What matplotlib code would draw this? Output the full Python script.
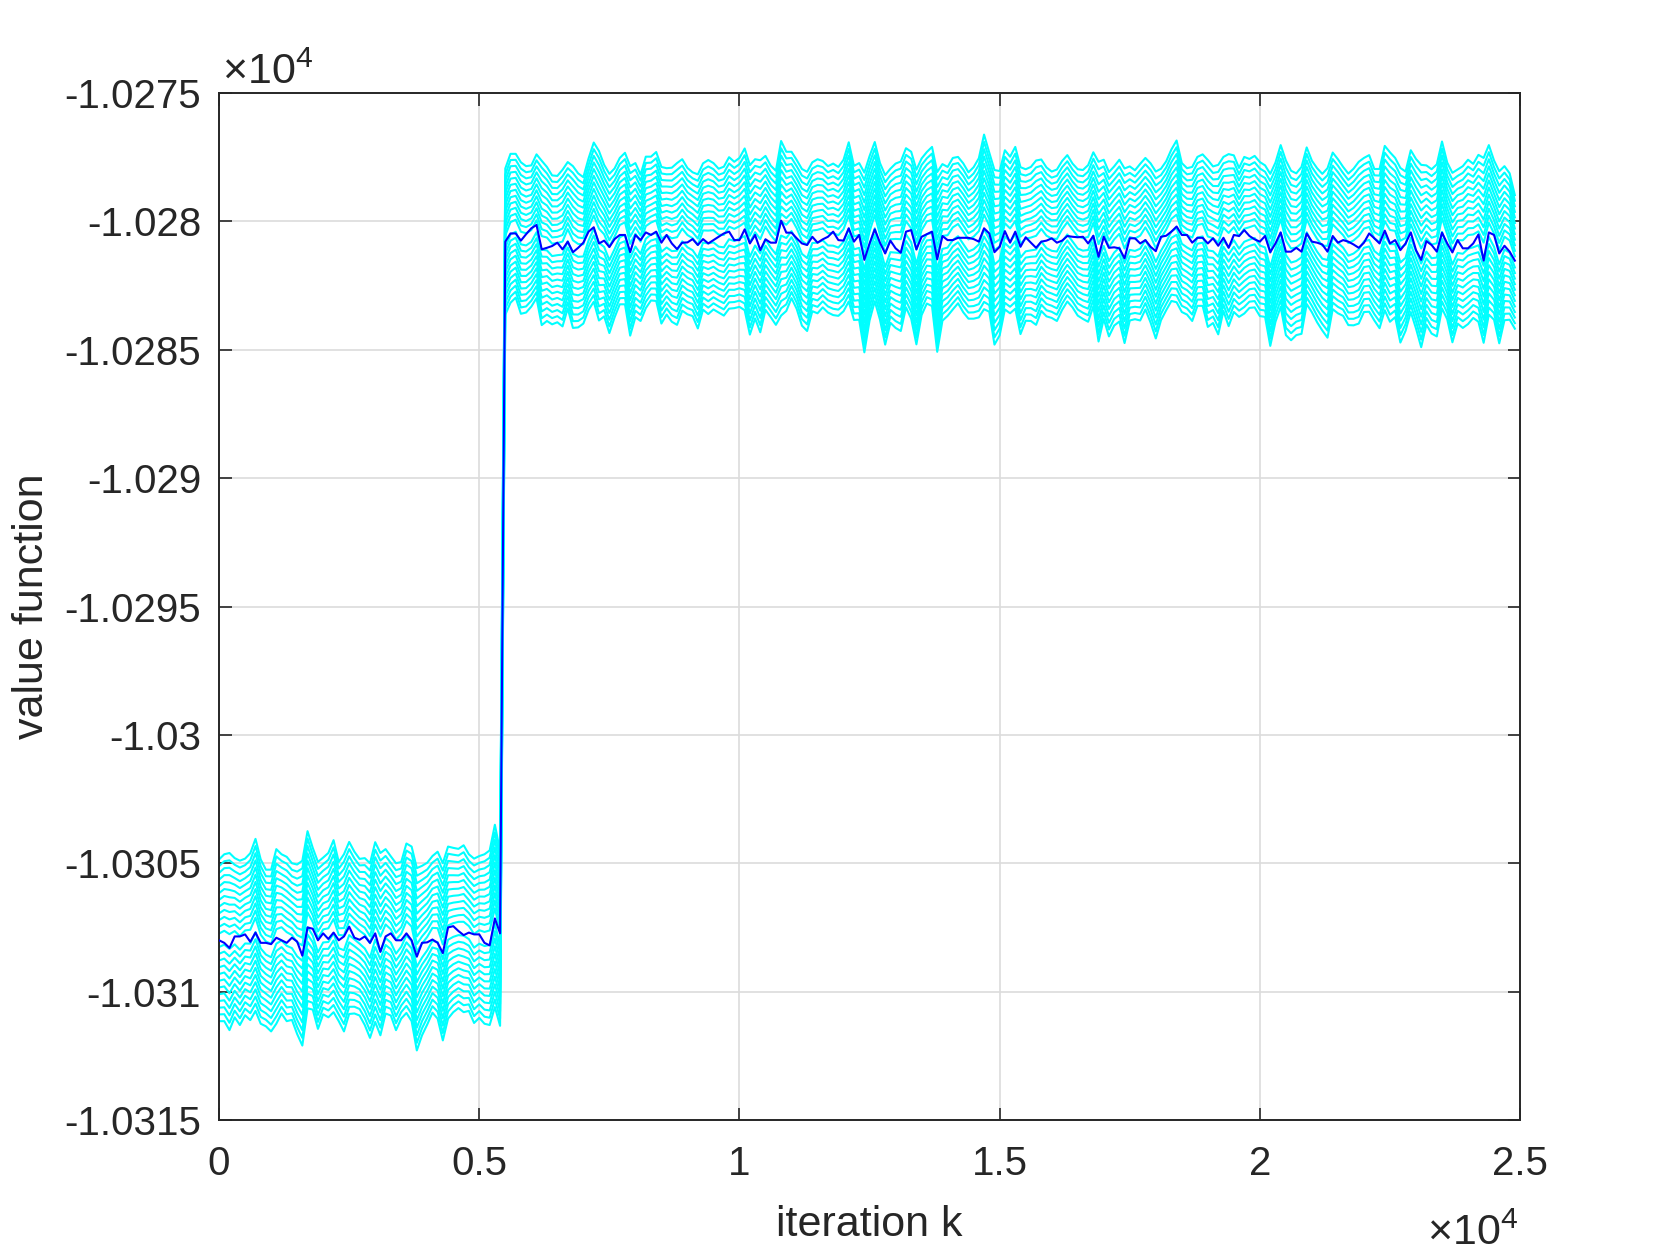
import numpy as np
import matplotlib
matplotlib.use("Agg")
import matplotlib.pyplot as plt
from matplotlib.ticker import FixedLocator, FixedFormatter

plt.rcParams['font.family'] = ['Liberation Sans', 'DejaVu Sans']
plt.rcParams['mathtext.fontset'] = 'custom'
plt.rcParams['mathtext.rm'] = 'Liberation Sans'
plt.rcParams['mathtext.it'] = 'Liberation Sans:italic'

# ---------------- data ----------------
iter_step = 100
iterations = np.arange(0, 25000, iter_step)          # 0 .. 24900

# mean value function (blue), before the jump (0 .. 5400)
blue_pre = [-10308.00, -10308.10, -10308.30, -10307.85, -10307.85, -10307.77, -10308.06, -10307.70,
            -10308.10, -10308.10, -10308.15, -10307.90, -10308.00, -10308.10, -10307.90, -10308.05,
            -10308.60, -10307.50, -10307.55, -10308.00, -10307.73, -10307.95, -10307.70, -10308.00,
            -10307.85, -10307.47, -10307.90, -10307.98, -10307.85, -10308.10, -10307.73, -10308.45,
            -10307.85, -10307.73, -10308.00, -10308.00, -10307.73, -10308.00, -10308.64, -10308.10,
            -10308.08, -10307.97, -10308.10, -10308.50, -10307.50, -10307.45, -10307.64, -10307.80,
            -10307.70, -10307.77, -10307.77, -10308.10, -10308.20, -10307.15, -10307.73]
# after the jump (5500 .. 24900)
blue_post = [-10280.79, -10280.47, -10280.47, -10280.75, -10280.50, -10280.27, -10280.14, -10281.09,
             -10281.03, -10280.96, -10280.83, -10281.09, -10280.79, -10281.20, -10281.03, -10280.83,
             -10280.40, -10280.23, -10280.86, -10280.75, -10281.00, -10280.69, -10280.53, -10280.53,
             -10281.20, -10280.53, -10280.73, -10280.43, -10280.53, -10280.40, -10280.83, -10280.53,
             -10280.86, -10281.08, -10280.83, -10280.82, -10280.69, -10280.92, -10280.69, -10280.86,
             -10280.73, -10280.60, -10280.47, -10280.40, -10280.73, -10280.73, -10280.31, -10280.86,
             -10280.53, -10281.12, -10280.70, -10280.83, -10280.83, -10279.97, -10280.44, -10280.44,
             -10280.66, -10280.86, -10280.92, -10280.60, -10280.83, -10280.70, -10280.60, -10280.40,
             -10280.73, -10280.75, -10280.27, -10280.79, -10280.53, -10281.50, -10280.86, -10280.31,
             -10280.83, -10281.25, -10280.75, -10281.05, -10281.22, -10280.40, -10280.34, -10281.09,
             -10280.60, -10280.50, -10280.40, -10281.48, -10280.57, -10280.73, -10280.73, -10280.64,
             -10280.64, -10280.64, -10280.69, -10280.79, -10280.27, -10280.47, -10281.20, -10280.99,
             -10280.38, -10280.83, -10280.40, -10280.99, -10280.62, -10280.83, -10281.03, -10280.79,
             -10280.75, -10280.66, -10280.83, -10280.75, -10280.57, -10280.60, -10280.62, -10280.60,
             -10280.86, -10280.56, -10281.38, -10280.60, -10281.03, -10281.01, -10281.05, -10281.44,
             -10280.66, -10280.66, -10280.86, -10280.73, -10280.99, -10281.16, -10280.60, -10280.56,
             -10280.40, -10280.20, -10280.53, -10280.53, -10280.83, -10280.64, -10280.64, -10280.86,
             -10280.66, -10280.95, -10280.64, -10281.03, -10280.53, -10280.57, -10280.34, -10280.57,
             -10280.70, -10280.79, -10280.57, -10281.20, -10280.86, -10280.43, -10281.18, -10281.18,
             -10281.03, -10281.18, -10280.47, -10280.79, -10280.83, -10280.90, -10281.18, -10280.57,
             -10280.83, -10280.73, -10280.79, -10280.90, -10281.03, -10280.83, -10280.47, -10280.66,
             -10280.86, -10280.36, -10280.86, -10280.73, -10281.12, -10280.86, -10280.43, -10281.12,
             -10281.50, -10280.77, -10280.92, -10281.18, -10280.44, -10280.86, -10281.21, -10280.73,
             -10281.05, -10281.05, -10280.86, -10280.51, -10281.53, -10280.43, -10280.53, -10281.25,
             -10280.95, -10281.18, -10281.53]

# half-width of the cyan band (outermost cyan line distance from blue)
half_width_pre = [3.15, 3.25, 3.45, 3.10, 3.20, 3.05, 3.25, 3.35, 3.20, 3.05, 3.15, 3.40, 3.10, 3.20,
                  3.05, 3.30, 3.60, 3.45, 3.15, 3.25, 3.05, 3.20, 3.35, 3.10, 3.45, 3.35, 3.15, 3.05,
                  3.25, 3.40, 3.50, 3.55, 3.20, 3.10, 3.25, 3.05, 3.30, 3.40, 3.55, 3.30, 3.15, 3.05,
                  3.25, 3.45, 3.35, 3.20, 3.10, 3.25, 3.05, 3.20, 3.15, 3.30, 3.40, 3.55, 3.40]
half_width_post = [2.85, 2.90, 2.80, 2.95, 2.85, 2.75, 2.80, 3.20, 3.00, 2.90, 2.85, 3.05, 2.85, 3.15,
                   3.00, 2.85, 2.95, 3.10, 3.30, 2.95, 3.10, 2.90, 2.85, 2.95, 3.30, 3.00, 2.85, 2.95,
                   2.80, 2.90, 3.05, 2.85, 3.00, 3.15, 2.95, 2.85, 2.80, 3.00, 2.85, 3.00, 2.85, 2.80,
                   2.90, 2.95, 2.85, 2.90, 3.15, 3.30, 3.10, 3.35, 3.00, 2.95, 3.00, 3.40, 3.10, 2.85,
                   2.90, 3.05, 3.10, 2.90, 3.00, 2.85, 2.85, 2.95, 2.90, 2.95, 3.10, 3.00, 3.05, 3.50,
                   3.20, 3.10, 3.05, 3.30, 3.00, 3.20, 3.30, 3.10, 3.25, 3.40, 3.05, 2.95, 3.10, 3.50,
                   3.05, 2.90, 2.95, 2.85, 2.90, 2.85, 2.95, 3.10, 3.40, 3.10, 3.40, 3.20, 3.10, 3.05,
                   3.15, 3.25, 2.95, 3.00, 3.20, 2.95, 2.90, 2.85, 2.95, 2.90, 2.85, 2.80, 2.85, 2.90,
                   3.05, 3.00, 3.50, 3.10, 3.20, 3.10, 3.15, 3.40, 3.00, 2.90, 3.05, 2.95, 3.10, 3.25,
                   2.95, 2.90, 2.95, 3.15, 2.90, 2.85, 3.00, 2.90, 2.95, 3.25, 3.05, 3.30, 3.00, 3.35,
                   3.05, 2.90, 3.05, 2.90, 2.95, 3.00, 2.95, 3.35, 3.10, 3.15, 3.40, 3.30, 3.15, 3.25,
                   3.05, 2.95, 3.00, 3.05, 3.30, 3.05, 3.00, 2.90, 2.95, 3.05, 3.15, 3.00, 3.05, 2.95,
                   3.10, 3.20, 3.30, 3.10, 3.40, 3.10, 3.15, 3.30, 3.55, 3.10, 3.20, 3.35, 3.25, 3.05,
                   3.30, 3.00, 3.15, 3.20, 3.00, 3.25, 3.60, 3.30, 3.10, 3.35, 3.00, 2.85, 2.60]

# common vertical wave of the cyan lines
wiggle_pre = [0.00, 0.20, 0.25, -0.05, -0.25, -0.10, 0.20, 0.30, 0.05, -0.20, -0.25, 0.05, 0.25, 0.15,
              -0.15, -0.30, 0.10, 0.30, 0.00, -0.20, -0.10, 0.15, 0.25, -0.05, -0.25, -0.05, 0.20, 0.10,
              -0.20, -0.30, 0.05, 0.30, 0.20, -0.10, -0.25, 0.00, 0.20, 0.25, -0.10, -0.30, -0.05, 0.20,
              0.30, 0.05, -0.20, -0.15, 0.10, 0.25, 0.00, -0.25, -0.10, 0.15, 0.30, 0.10, -0.20]
wiggle_post = [0.00, 0.20, 0.30, 0.10, -0.20, -0.30, -0.05, 0.25, 0.15, -0.15, -0.25, 0.05, 0.25, 0.20,
               -0.10, -0.30, -0.10, 0.20, 0.30, 0.00,
               -0.25, -0.15, 0.15, 0.25, 0.05, -0.20, -0.30, 0.00, 0.25, 0.20, -0.10, -0.25, -0.05, 0.20,
               0.30, 0.05, -0.20, -0.25, 0.10, 0.25,
               0.15, -0.15, -0.30, -0.05, 0.20, 0.30, 0.00, -0.25, -0.15, 0.15, 0.25, 0.05, -0.20, -0.30,
               0.05, 0.30, 0.15, -0.15, -0.25, 0.00,
               0.25, 0.20, -0.10, -0.30, -0.05, 0.20, 0.25, -0.05, -0.25, -0.10, 0.20, 0.30, 0.05, -0.25,
               -0.20, 0.10, 0.25, 0.15, -0.20, -0.30,
               0.00, 0.25, 0.20, -0.10, -0.25, -0.05, 0.25, 0.30, 0.00, -0.30, -0.15, 0.15, 0.25, 0.05,
               -0.20, -0.25, 0.05, 0.30, 0.15, -0.15,
               -0.30, -0.05, 0.20, 0.25, -0.05, -0.25, -0.10, 0.20, 0.30, 0.05, -0.20, -0.30, 0.00, 0.25,
               0.20, -0.10, -0.25, 0.05, 0.30, 0.10,
               -0.20, -0.25, 0.05, 0.25, 0.15, -0.15, -0.30, 0.00, 0.25, 0.20, -0.10, -0.25, -0.05, 0.25,
               0.30, 0.00, -0.25, -0.15, 0.15, 0.30,
               0.05, -0.25, -0.20, 0.10, 0.30, 0.10, -0.20, -0.30, 0.05, 0.25, 0.15, -0.15, -0.25, 0.05,
               0.30, 0.20, -0.10, -0.30, -0.05, 0.20,
               0.25, -0.05, -0.30, -0.10, 0.20, 0.30, 0.00, -0.25, -0.20, 0.10, 0.25, 0.10, -0.20, -0.30,
               0.05, 0.25, 0.15, -0.15, -0.25, 0.05,
               0.30, 0.10, -0.20, -0.25, 0.05, 0.25, 0.10, -0.15, 0.40, 0.10, -0.20, -0.15, 0.10, 0.20,
               -0.05]

n_side = 12   # cyan lines on each side of the mean

x_ticks = [0, 5000, 10000, 15000, 20000, 25000]
x_tick_labels = ['0', '0.5', '1', '1.5', '2', '2.5']
y_ticks = [-10315, -10310, -10305, -10300, -10295, -10290, -10285, -10280, -10275]
y_tick_labels = ['-1.0315', '-1.031', '-1.0305', '-1.03', '-1.0295', '-1.029', '-1.0285', '-1.028', '-1.0275']

# ---------------- figure ----------------
blue = np.array(blue_pre + blue_post)
half_width = np.array(half_width_pre + half_width_post)
wiggle = np.array(wiggle_pre + wiggle_post)
assert len(blue) == len(iterations) == len(half_width) == len(wiggle)

fig = plt.figure(figsize=(16.8, 12.6), dpi=100)
ax = fig.add_axes([0.1304, 0.1111, 0.7744, 0.8151])

for k in list(range(-n_side, 0)) + list(range(1, n_side + 1)):
    ax.plot(iterations, blue + wiggle + (k / n_side) * half_width,
            color=(0, 1, 1), lw=1.5, zorder=2)
ax.plot(iterations, blue, color=(0, 0, 1), lw=1.5, zorder=3)

ax.set_xlim(0, 25000)
ax.set_ylim(-10315, -10275)
ax.xaxis.set_major_locator(FixedLocator(x_ticks))
ax.xaxis.set_major_formatter(FixedFormatter(x_tick_labels))
ax.yaxis.set_major_locator(FixedLocator(y_ticks))
ax.yaxis.set_major_formatter(FixedFormatter(y_tick_labels))

dark = '#262626'
ax.grid(True, color='#dcdcdc', lw=1.2, zorder=0)
ax.set_axisbelow(True)
for sp in ax.spines.values():
    sp.set_color(dark)
    sp.set_linewidth(1.4)
ax.tick_params(axis='both', which='major', direction='in', length=9, width=1.2,
               colors=dark, labelsize=29, top=True, right=True)
ax.tick_params(axis='x', pad=18)
ax.tick_params(axis='y', pad=13)

ax.set_xlabel('iteration k', fontsize=31, color=dark, labelpad=16)
ax.set_ylabel('value function', fontsize=31, color=dark, labelpad=9)

fig.text(222 / 1680, 1 - 84 / 1260, r'$\times\mathregular{10^{4}}$', fontsize=31,
         color=dark, ha='left', va='baseline')
fig.text(1518 / 1680, 1 - 1245 / 1260, r'$\times\mathregular{10^{4}}$', fontsize=31,
         color=dark, ha='right', va='baseline')

fig.savefig('out.png', dpi=100, facecolor='white')
